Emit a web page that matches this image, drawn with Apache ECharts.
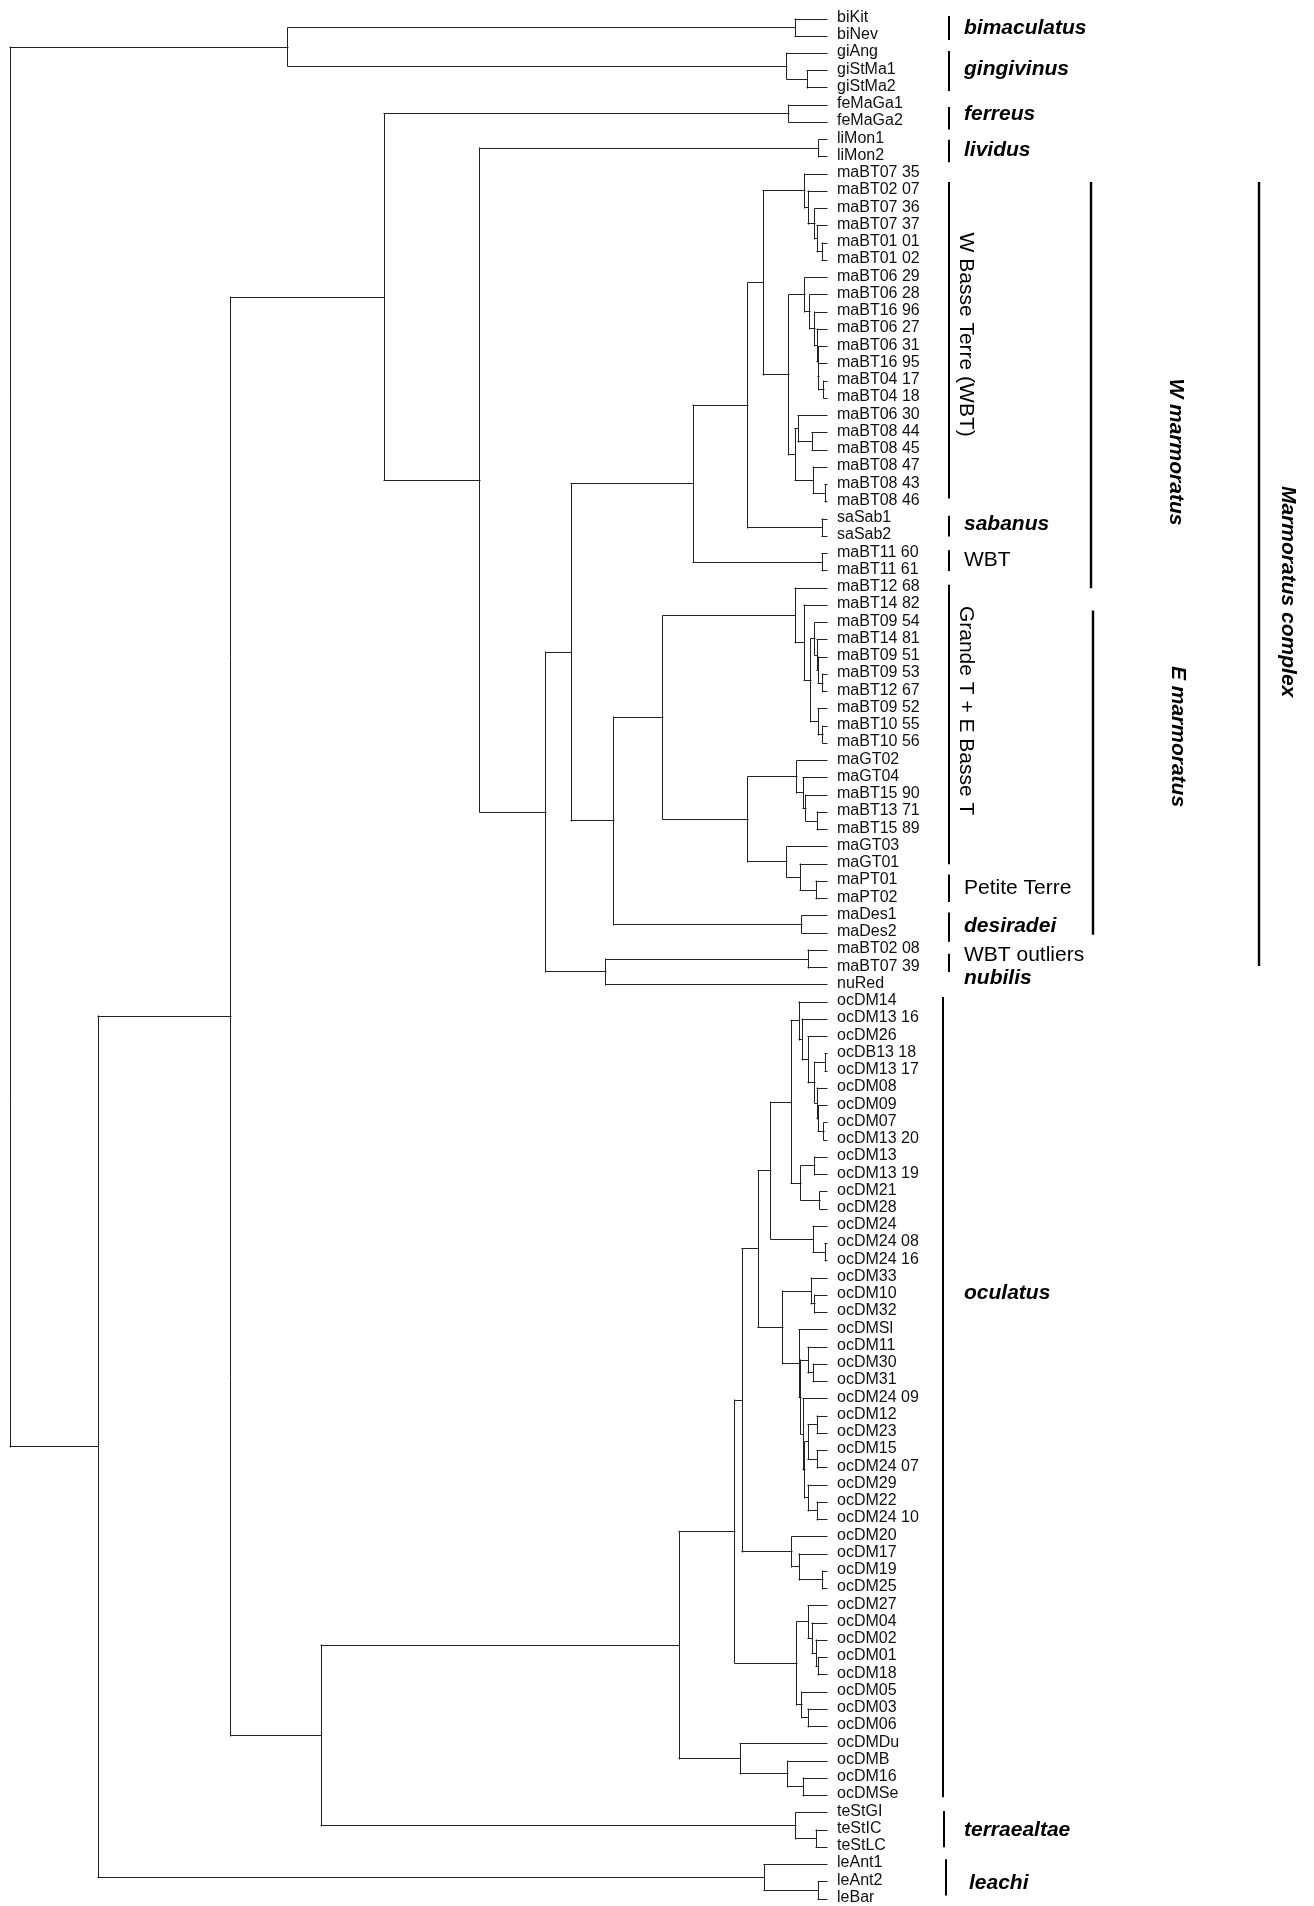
<!DOCTYPE html>
<html>
<head>
<meta charset="utf-8">
<title>Anolis phylogeny</title>
<script src="https://cdn.jsdelivr.net/npm/echarts@6/dist/echarts.min.js"></script>
<style>
  html, body { margin: 0; padding: 0; background: #fff; }
  #chart { width: 1314px; height: 1906px; }
</style>
</head>
<body>
<div id="chart"></div>
<script>
// Terminal taxa, top to bottom
const tipLabels = [
  "biKit", "biNev", "giAng", "giStMa1", "giStMa2", "feMaGa1", "feMaGa2", "liMon1", "liMon2",
  "maBT07 35", "maBT02 07", "maBT07 36", "maBT07 37", "maBT01 01", "maBT01 02",
  "maBT06 29", "maBT06 28", "maBT16 96", "maBT06 27", "maBT06 31", "maBT16 95", "maBT04 17", "maBT04 18",
  "maBT06 30", "maBT08 44", "maBT08 45", "maBT08 47", "maBT08 43", "maBT08 46",
  "saSab1", "saSab2", "maBT11 60", "maBT11 61",
  "maBT12 68", "maBT14 82", "maBT09 54", "maBT14 81", "maBT09 51", "maBT09 53", "maBT12 67",
  "maBT09 52", "maBT10 55", "maBT10 56",
  "maGT02", "maGT04", "maBT15 90", "maBT13 71", "maBT15 89", "maGT03", "maGT01", "maPT01", "maPT02",
  "maDes1", "maDes2", "maBT02 08", "maBT07 39", "nuRed",
  "ocDM14", "ocDM13 16", "ocDM26", "ocDB13 18", "ocDM13 17", "ocDM08", "ocDM09", "ocDM07", "ocDM13 20",
  "ocDM13", "ocDM13 19", "ocDM21", "ocDM28", "ocDM24", "ocDM24 08", "ocDM24 16",
  "ocDM33", "ocDM10", "ocDM32", "ocDMSl", "ocDM11", "ocDM30", "ocDM31", "ocDM24 09",
  "ocDM12", "ocDM23", "ocDM15", "ocDM24 07", "ocDM29", "ocDM22", "ocDM24 10",
  "ocDM20", "ocDM17", "ocDM19", "ocDM25",
  "ocDM27", "ocDM04", "ocDM02", "ocDM01", "ocDM18", "ocDM05", "ocDM03", "ocDM06",
  "ocDMDu", "ocDMB", "ocDM16", "ocDMSe",
  "teStGI", "teStIC", "teStLC", "leAnt1", "leAnt2", "leBar"
];

// Internal nodes: [id, relative age (root = 100, tips = 0), upper child, lower child]
const nodes = [
  ["bim", 3.9, "biKit", "biNev"],
  ["giSt", 2.4, "giStMa1", "giStMa2"],
  ["gin", 4.9, "giAng", "giSt"],
  ["bigi", 66.0, "bim", "gin"],
  ["fer", 4.7, "feMaGa1", "feMaGa2"],
  ["liv", 1.0, "liMon1", "liMon2"],
  ["w5", 0.6, "maBT01 01", "maBT01 02"],
  ["w4", 1.2, "maBT07 37", "w5"],
  ["w3", 1.5, "maBT07 36", "w4"],
  ["w2", 2.3, "maBT02 07", "w3"],
  ["w1", 2.7, "maBT07 35", "w2"],
  ["w12", 0.4, "maBT04 17", "maBT04 18"],
  ["w11", 1.0, "maBT16 95", "w12"],
  ["w10", 1.1, "maBT06 31", "w11"],
  ["w9", 1.2, "maBT06 27", "w10"],
  ["w8", 1.5, "maBT16 96", "w9"],
  ["w7", 2.1, "maBT06 28", "w8"],
  ["w6", 2.7, "maBT06 29", "w7"],
  ["w15", 1.8, "maBT08 44", "maBT08 45"],
  ["w14", 3.5, "maBT06 30", "w15"],
  ["w17", 0.2, "maBT08 43", "maBT08 46"],
  ["w16", 1.7, "maBT08 47", "w17"],
  ["w13", 3.9, "w14", "w16"],
  ["wlo", 4.7, "w6", "w13"],
  ["wbt", 7.8, "w1", "wlo"],
  ["sab", 0.6, "saSab1", "saSab2"],
  ["wbs", 9.7, "wbt", "sab"],
  ["b11", 0.6, "maBT11 60", "maBT11 61"],
  ["wma", 16.4, "wbs", "b11"],
  ["e6", 0.5, "maBT09 53", "maBT12 67"],
  ["e5b", 1.1, "maBT09 51", "e6"],
  ["e5", 1.2, "maBT14 81", "e5b"],
  ["e4", 1.5, "maBT09 54", "e5"],
  ["e8", 0.5, "maBT10 55", "maBT10 56"],
  ["e7", 1.1, "maBT09 52", "e8"],
  ["e3", 2.0, "e4", "e7"],
  ["e2", 2.8, "maBT14 82", "e3"],
  ["e1", 3.9, "maBT12 68", "e2"],
  ["g4", 1.2, "maBT13 71", "maBT15 89"],
  ["g3", 2.6, "maBT15 90", "g4"],
  ["g2", 2.9, "maGT04", "g3"],
  ["g1", 3.7, "maGT02", "g2"],
  ["pt", 1.3, "maPT01", "maPT02"],
  ["g6", 3.3, "maGT01", "pt"],
  ["g5", 4.9, "maGT03", "g6"],
  ["gt", 9.7, "g1", "g5"],
  ["egt", 20.1, "e1", "gt"],
  ["des", 3.1, "maDes1", "maDes2"],
  ["ema", 26.1, "egt", "des"],
  ["mar", 31.3, "wma", "ema"],
  ["out", 2.3, "maBT02 08", "maBT07 39"],
  ["nub", 27.1, "out", "nuRed"],
  ["mnu", 34.4, "mar", "nub"],
  ["lmn", 42.5, "liv", "mnu"],
  ["flm", 54.2, "fer", "lmn"],
  ["o5", 0.2, "ocDB13 18", "ocDM13 17"],
  ["o8", 0.4, "ocDM07", "ocDM13 20"],
  ["o7", 1.1, "ocDM09", "o8"],
  ["o6", 1.2, "ocDM08", "o7"],
  ["o4", 1.5, "o5", "o6"],
  ["o3", 2.3, "ocDM26", "o4"],
  ["o2", 3.0, "ocDM13 16", "o3"],
  ["o1", 3.4, "ocDM14", "o2"],
  ["o10", 1.5, "ocDM13", "ocDM13 19"],
  ["o11", 0.9, "ocDM21", "ocDM28"],
  ["o9", 3.2, "o10", "o11"],
  ["oa", 4.4, "o1", "o9"],
  ["o12b", 0.2, "ocDM24 08", "ocDM24 16"],
  ["o12", 1.7, "ocDM24", "o12b"],
  ["ob", 6.9, "oa", "o12"],
  ["o14", 1.5, "ocDM10", "ocDM32"],
  ["o13", 1.9, "ocDM33", "o14"],
  ["p3b", 1.7, "ocDM30", "ocDM31"],
  ["p3", 2.3, "ocDM11", "p3b"],
  ["p7", 1.2, "ocDM12", "ocDM23"],
  ["p7b", 1.2, "ocDM15", "ocDM24 07"],
  ["p6", 2.3, "p7", "p7b"],
  ["p9", 1.2, "ocDM22", "ocDM24 10"],
  ["p8", 2.3, "ocDM29", "p9"],
  ["p5", 2.7, "p6", "p8"],
  ["p4", 2.9, "ocDM24 09", "p5"],
  ["p2", 3.2, "p3", "p4"],
  ["p1", 3.4, "ocDMSl", "p2"],
  ["oc1", 5.4, "o13", "p1"],
  ["oc", 8.4, "ob", "oc1"],
  ["q2", 0.5, "ocDM19", "ocDM25"],
  ["q1", 3.4, "ocDM17", "q2"],
  ["q", 4.3, "ocDM20", "q1"],
  ["ocq", 10.4, "oc", "q"],
  ["r4", 1.1, "ocDM01", "ocDM18"],
  ["r3", 1.3, "ocDM02", "r4"],
  ["r2", 1.8, "ocDM04", "r3"],
  ["r1", 2.3, "ocDM27", "r2"],
  ["r6", 2.3, "ocDM03", "ocDM06"],
  ["r5", 3.1, "ocDM05", "r6"],
  ["r", 3.7, "r1", "r5"],
  ["ocr", 11.3, "ocq", "r"],
  ["s2", 2.9, "ocDM16", "ocDMSe"],
  ["s1", 4.8, "ocDMB", "s2"],
  ["s", 10.6, "ocDMDu", "s1"],
  ["ocu", 18.1, "ocr", "s"],
  ["te2", 1.3, "teStIC", "teStLC"],
  ["ter", 3.8, "teStGI", "te2"],
  ["octe", 61.9, "ocu", "ter"],
  ["big", 73.0, "flm", "octe"],
  ["le2", 1.1, "leAnt2", "leBar"],
  ["lea", 7.7, "leAnt1", "le2"],
  ["inner", 89.2, "big", "lea"],
  ["root", 100, "bigi", "inner"]
];

// Clade annotations, spans given in tip rows (0 = first tip)
const cladeNames = [
  "bimaculatus", "gingivinus", "ferreus", "lividus", "W Basse Terre (WBT)", "sabanus", "WBT",
  "Grande T + E Basse T", "Petite Terre", "desiradei", "WBT outliers", "nubilis",
  "oculatus", "terraealtae", "leachi", "W marmoratus", "E marmoratus", "Marmoratus complex"
];
const cladeFirstRow = [-0.17, 1.86, 5.1, 7.0, 9.45, 28.8, 30.8, 32.8, 49.6, 51.8, 54.2, null, 56.7, 103.9, 106.7, 9.45, 34.3, 9.45];
const cladeLastRow  = [1.22, 4.17, 6.4, 8.3, 27.8, 30.0, 32.0, 49.0, 51.2, 53.5, 55.25, null, 103.1, 106.0, 108.8, 33.0, 53.1, 54.9];
const cladeLabelRow = [0.52, 2.9, 5.5, 7.6, 18.3, 29.3, 31.4, 40.1, 50.4, 52.6, 54.3, 55.6, 73.9, 105.0, 108.1, 25.1, 41.6, 33.2];

// Presentation of each annotation: column, orientation, weight
const FONT = "'Liberation Sans', Arial, Helvetica, sans-serif";
const cladeLook = {
  "bimaculatus": { col: 1, em: true },
  "gingivinus": { col: 1, em: true },
  "ferreus": { col: 1, em: true },
  "lividus": { col: 1, em: true },
  "W Basse Terre (WBT)": { col: 1, rot: true },
  "sabanus": { col: 1, em: true },
  "WBT": { col: 1 },
  "Grande T + E Basse T": { col: 1, rot: true },
  "Petite Terre": { col: 1 },
  "desiradei": { col: 1, em: true },
  "WBT outliers": { col: 1 },
  "nubilis": { col: 1, em: true },
  "oculatus": { col: 1, em: true, dx: -6 },
  "terraealtae": { col: 1, em: true, dx: -5 },
  "leachi": { col: 1, em: true, dx: -3, tx: 5 },
  "W marmoratus": { col: 2, em: true, rot: true },
  "E marmoratus": { col: 2, em: true, rot: true, dx: 2 },
  "Marmoratus complex": { col: 3, em: true, rot: true }
};
// column offsets from the tip line (bar, text)
const columns = {
  1: { bar: 122, text: 137, rotText: 139 },
  2: { bar: 264, rotText: 349 },
  3: { bar: 432, rotText: 461 }
};

// ---- build the tree geometry from the node table ----
const place = {};
tipLabels.forEach((t, i) => { place[t] = { age: 0, row: i }; });
const segments = [];
nodes.forEach(([id, age, a, b]) => {
  const ca = place[a], cb = place[b];
  place[id] = { age: age, row: (ca.row + cb.row) / 2 };
  segments.push([age, ca.row, age, cb.row]);        // vertical connector
  segments.push([age, ca.row, ca.age, ca.row]);     // branch to upper child
  segments.push([age, cb.row, cb.age, cb.row]);     // branch to lower child
});

const tipData = tipLabels.map((t, i) => [0, i, t]);
const cladeData = cladeNames.map((n, i) => [0, cladeLabelRow[i], cladeFirstRow[i], cladeLastRow[i], n]);

const chart = echarts.init(document.getElementById('chart'), null, { renderer: 'canvas' });

const snap = v => Math.round(v - 0.5) + 0.5;

chart.setOption({
  backgroundColor: '#ffffff',
  animation: false,
  grid: { left: 10, top: 19, width: 817, height: 1880, containLabel: false },
  xAxis: { type: 'value', min: 0, max: 100, inverse: true, show: false },
  yAxis: { type: 'value', min: 0, max: 109, inverse: true, show: false },
  series: [
    {
      type: 'custom',
      name: 'branches',
      silent: true,
      clip: false,
      encode: { x: [0, 2], y: [1, 3] },
      data: segments,
      renderItem: (params, api) => {
        const p1 = api.coord([api.value(0), api.value(1)]);
        const p2 = api.coord([api.value(2), api.value(3)]);
        const vertical = Math.abs(p1[0] - p2[0]) < 0.01;
        const shape = vertical
          ? { x1: snap(p1[0]), y1: Math.round(p1[1]), x2: snap(p2[0]), y2: Math.round(p2[1]) }
          : { x1: Math.round(p1[0]), y1: snap(p1[1]), x2: Math.round(p2[0]), y2: snap(p2[1]) };
        return { type: 'line', shape: shape, style: { stroke: '#222', lineWidth: 1, lineCap: 'square' } };
      }
    },
    {
      type: 'custom',
      name: 'tips',
      silent: true,
      clip: false,
      encode: { x: 0, y: 1 },
      data: tipData,
      renderItem: (params, api) => {
        const p = api.coord([api.value(0), api.value(1)]);
        return {
          type: 'text',
          x: p[0] + 10,
          y: p[1] - 1.5,
          style: {
            text: tipLabels[params.dataIndex],
            font: '16px ' + FONT,
            fill: '#111',
            align: 'left',
            verticalAlign: 'middle'
          }
        };
      }
    },
    {
      type: 'custom',
      name: 'clades',
      silent: true,
      clip: false,
      encode: { x: 0, y: 1 },
      data: cladeData,
      renderItem: (params, api) => {
        const i = params.dataIndex;
        const name = cladeNames[i];
        const look = cladeLook[name];
        const col = columns[look.col];
        const base = api.coord([0, cladeLabelRow[i]]);
        const children = [];
        if (cladeFirstRow[i] !== null) {
          const top = api.coord([0, cladeFirstRow[i]])[1];
          const bot = api.coord([0, cladeLastRow[i]])[1];
          const bx = base[0] + col.bar + (look.dx || 0);
          children.push({
            type: 'line',
            shape: { x1: bx, y1: top, x2: bx, y2: bot },
            style: { stroke: '#000', lineWidth: look.col === 1 ? 2 : 2.4 }
          });
        }
        const font = (look.em ? 'italic bold ' : '') + '21px ' + FONT;
        if (look.rot) {
          children.push({
            type: 'text',
            x: base[0] + col.rotText + (look.dx || 0),
            y: base[1],
            rotation: -Math.PI / 2,
            style: { text: name, font: font, fill: '#000', align: 'center', verticalAlign: 'middle' }
          });
        } else {
          children.push({
            type: 'text',
            x: base[0] + col.text + (look.tx || 0),
            y: base[1],
            style: { text: name, font: font, fill: '#000', align: 'left', verticalAlign: 'middle' }
          });
        }
        return { type: 'group', children: children };
      }
    }
  ]
});
</script>
</body>
</html>
